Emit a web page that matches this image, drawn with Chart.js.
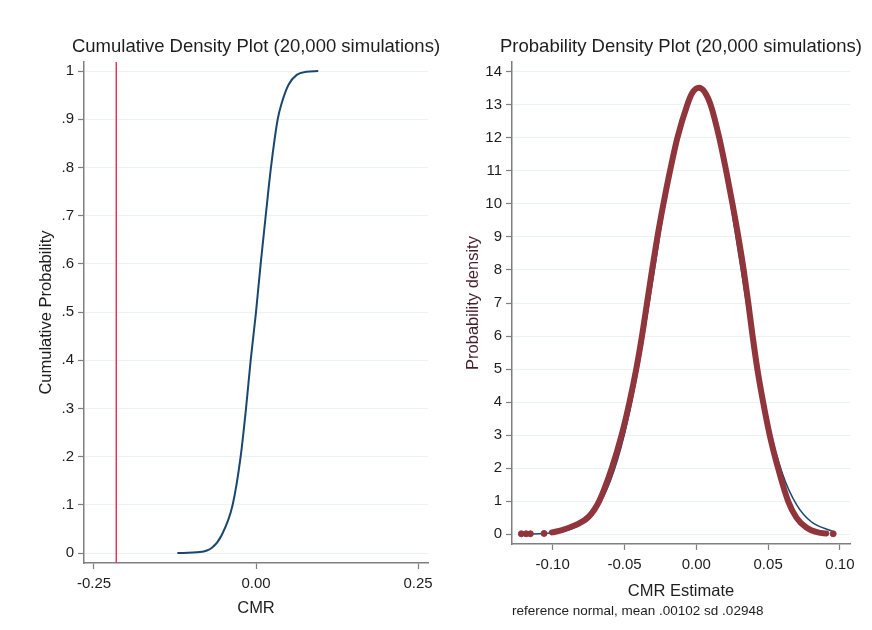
<!DOCTYPE html>
<html>
<head>
<meta charset="utf-8">
<title>CMR simulations</title>
<script src="https://cdn.jsdelivr.net/npm/chart.js@4.4.1/dist/chart.umd.min.js"></script>
<style>
  html, body { margin: 0; background: #fff; overflow: hidden; }
  #wrap { position: relative; width: 872px; height: 630px; overflow: hidden; }
  /* each panel is centred on its plot region so the title centres over the plot */
  #cdfPanel { position: absolute; top: 0; left: 0; width: 512px; height: 630px; }
  #pdfPanel { position: absolute; top: 0; left: 436px; width: 490px; height: 630px; }
</style>
</head>
<body>
<div id="wrap">
  <div id="cdfPanel"><canvas id="cdfChart"></canvas></div>
  <div id="pdfPanel"><canvas id="pdfChart"></canvas></div>
</div>
<script>
"use strict";

// cumulative distribution of the simulated CMR
const cdfX = [-0.1214, -0.0864, -0.068, -0.053, -0.036, -0.0237, -0.0154, -0.0082, 0.0,
  0.0072, 0.015, 0.0231, 0.0335, 0.0396, 0.05, 0.0628, 0.078, 0.096];
const cdfY = [0, 0.002, 0.011, 0.037, 0.1, 0.2, 0.3, 0.4, 0.5,
  0.6, 0.7, 0.8, 0.9, 0.933, 0.971, 0.992, 0.9986, 1];
const cmrCutoff = -0.2156;
const cdfXTicks = [-0.25, 0, 0.25];
const cdfYTicks = [0, 0.1, 0.2, 0.3, 0.4, 0.5, 0.6, 0.7, 0.8, 0.9, 1];
const cdfYLabels = ["0", ".1", ".2", ".3", ".4", ".5", ".6", ".7", ".8", ".9", "1"];
const cdfXRange = [-0.2654, 0.2654];
const cdfYRange = [-0.0207, 1.0187];

// kernel density of the CMR estimate
const kdenX = [-0.1005, -0.0935, -0.0843, -0.075, -0.0676, -0.0588, -0.052, -0.0465, -0.0418,
  -0.0378, -0.0343, -0.0308, -0.0271, -0.0229, -0.0183, -0.0132, -0.0063, -0.003, 0.0018,
  0.006, 0.01, 0.016, 0.0208, 0.0252, 0.0293, 0.033, 0.0362, 0.0392, 0.0425,
  0.0465, 0.0511, 0.0569, 0.0639, 0.0697, 0.0766, 0.0847, 0.0905];
const kdenY = [0.05, 0.12, 0.27, 0.52, 1, 2, 3, 4, 5,
  6, 7, 8, 9, 10, 11, 12, 13, 13.35, 13.52,
  13.38, 13, 12, 11, 10, 9, 8, 7, 6, 5,
  4, 3, 2, 1, 0.5, 0.2, 0.05, 0.02];
// isolated outlying estimates
const kdenTailX = [-0.1218, -0.1185, -0.1155, -0.106, 0.0953];
const kdenTailY = [0.01, 0.01, 0.01, 0.02, 0.01];
// reference normal, mean .00102 sd .02948
const normX = [-0.122, -0.11, -0.1, -0.09, -0.08, -0.07, -0.06, -0.05, -0.04, -0.03, -0.02, -0.01,
  0.001, 0.01, 0.02, 0.03, 0.04, 0.05, 0.06, 0.07, 0.08, 0.095];
const normY = [0.002, 0.011, 0.038, 0.115, 0.31, 0.74, 1.59, 3.03, 5.14, 7.78, 10.5, 12.61,
  13.53, 12.92, 11.0, 8.35, 5.65, 3.4, 1.83, 0.875, 0.373, 0.084];
const pdfXTicks = [-0.1, -0.05, 0, 0.05, 0.1];
const pdfYTicks = [0, 1, 2, 3, 4, 5, 6, 7, 8, 9, 10, 11, 12, 13, 14];
const pdfXRange = [-0.1283, 0.107];
const pdfYRange = [-0.3, 14.3];

Chart.defaults.font.family = "'Liberation Sans', Arial, sans-serif";
Chart.defaults.color = "#1e1e1e";
Chart.defaults.animation = false;

const navy = "#1a476f";
const maroon = "#90353b";
const cutoffRed = "#e8365d";
const axisGray = "#7f7f7f";
const gridColor = "#eaf2f3";

const toPoints = (xs, ys) => xs.map((x, i) => ({ x: x, y: ys[i] }));
const fixedTicks = (values) => (axis) => {
  axis.ticks = values.map((v) => ({ value: v }));
};

const titleOptions = (text) => ({
  display: true,
  text: text,
  color: "#1e1e1e",
  font: { size: 18.5, weight: "normal" },
  padding: { top: 35.9, bottom: 3.9 },
});

const xAxis = (range, ticks, title, height, titlePad) => ({
  type: "linear",
  min: range[0],
  max: range[1],
  afterBuildTicks: fixedTicks(ticks),
  afterFit: (scale) => {
    scale.height = height;
    // end labels may overhang; keep the plot width fixed
    scale.paddingLeft = 0;
    scale.paddingRight = 0;
  },
  ticks: {
    font: { size: 15 },
    color: "#1e1e1e",
    padding: 6,
    maxRotation: 0,
    callback: (v) => v.toFixed(2),
  },
  grid: {
    drawOnChartArea: false,
    tickLength: 6,
    tickColor: axisGray,
    tickWidth: 1.2,
  },
  border: { color: axisGray, width: 1.5 },
  title: {
    display: true,
    text: title,
    color: "#1e1e1e",
    font: { size: 16.5 },
    padding: { top: 0, bottom: titlePad },
  },
});

const yAxis = (range, ticks, labels, title, titleColor, width, titlePad) => ({
  type: "linear",
  min: range[0],
  max: range[1],
  afterBuildTicks: fixedTicks(ticks),
  afterFit: (scale) => {
    scale.width = width;
  },
  ticks: {
    font: { size: 15 },
    color: "#1e1e1e",
    padding: 4,
    callback: (v, i) => labels[i],
  },
  grid: {
    color: gridColor,
    lineWidth: 1,
    tickLength: 6,
    tickColor: axisGray,
    tickWidth: 1.2,
  },
  border: { color: axisGray, width: 1.5 },
  title: {
    display: true,
    text: title,
    color: titleColor,
    font: { size: 16.5 },
    padding: { top: titlePad, bottom: 0 },
  },
});

// blank right-hand axis: reserves margin without narrowing the title box
const spacerAxis = (width) => ({
  type: "linear",
  position: "right",
  afterFit: (scale) => {
    scale.width = width;
  },
  ticks: { display: false },
  grid: { display: false },
  border: { display: false },
});

const cdfCtx = document.getElementById("cdfChart").getContext("2d");
new Chart(cdfCtx, {
  type: "scatter",
  data: {
    datasets: [
      {
        label: "Cumulative probability",
        data: toPoints(cdfX, cdfY),
        showLine: true,
        borderColor: navy,
        borderWidth: 2,
        pointRadius: 0,
        cubicInterpolationMode: "monotone",
      },
      {
        label: "Cutoff",
        data: toPoints([cmrCutoff, cmrCutoff], cdfYRange),
        showLine: true,
        borderColor: cutoffRed,
        borderWidth: 1.5,
        pointRadius: 0,
      },
    ],
  },
  options: {
    responsive: true,
    maintainAspectRatio: false,
    layout: { padding: 0 },
    plugins: {
      legend: { display: false },
      tooltip: { enabled: false },
      title: titleOptions("Cumulative Density Plot (20,000 simulations)"),
    },
    scales: {
      x: xAxis(cdfXRange, cdfXTicks, "CMR", 67, 12.1),
      y: yAxis(cdfYRange, cdfYTicks, cdfYLabels, "Cumulative Probability", "#1e1e1e", 84, 36.6),
      pad: spacerAxis(84),
    },
  },
});

const pdfCtx = document.getElementById("pdfChart").getContext("2d");
new Chart(pdfCtx, {
  type: "scatter",
  data: {
    datasets: [
      {
        label: "Kernel density",
        data: toPoints(kdenX, kdenY),
        showLine: true,
        borderColor: maroon,
        borderWidth: 6,
        borderCapStyle: "round",
        borderJoinStyle: "round",
        pointRadius: 0,
        cubicInterpolationMode: "monotone",
      },
      {
        label: "Outlying estimates",
        data: toPoints(kdenTailX, kdenTailY),
        showLine: false,
        backgroundColor: maroon,
        pointRadius: 3,
        pointBorderWidth: 1,
        pointBorderColor: maroon,
      },
      {
        label: "Normal density",
        data: toPoints(normX, normY),
        showLine: true,
        borderColor: navy,
        borderWidth: 1.5,
        pointRadius: 0,
        cubicInterpolationMode: "monotone",
      },
    ],
  },
  options: {
    responsive: true,
    maintainAspectRatio: false,
    layout: { padding: 0 },
    plugins: {
      legend: { display: false },
      tooltip: { enabled: false },
      title: titleOptions("Probability Density Plot (20,000 simulations)"),
      subtitle: {
        display: true,
        position: "bottom",
        align: "start",
        fullSize: false,
        text: "reference normal, mean .00102 sd .02948",
        color: "#1e1e1e",
        font: { size: 13.5 },
        padding: { top: 2, bottom: 10.2 },
      },
    },
    scales: {
      x: xAxis(pdfXRange, pdfXTicks, "CMR Estimate", 57.6, 0.7),
      y: yAxis(pdfYRange, pdfYTicks, pdfYTicks.map(String), "Probability density", "#4a1f2c", 76, 27.4),
      pad: spacerAxis(76),
    },
  },
});
</script>
</body>
</html>
